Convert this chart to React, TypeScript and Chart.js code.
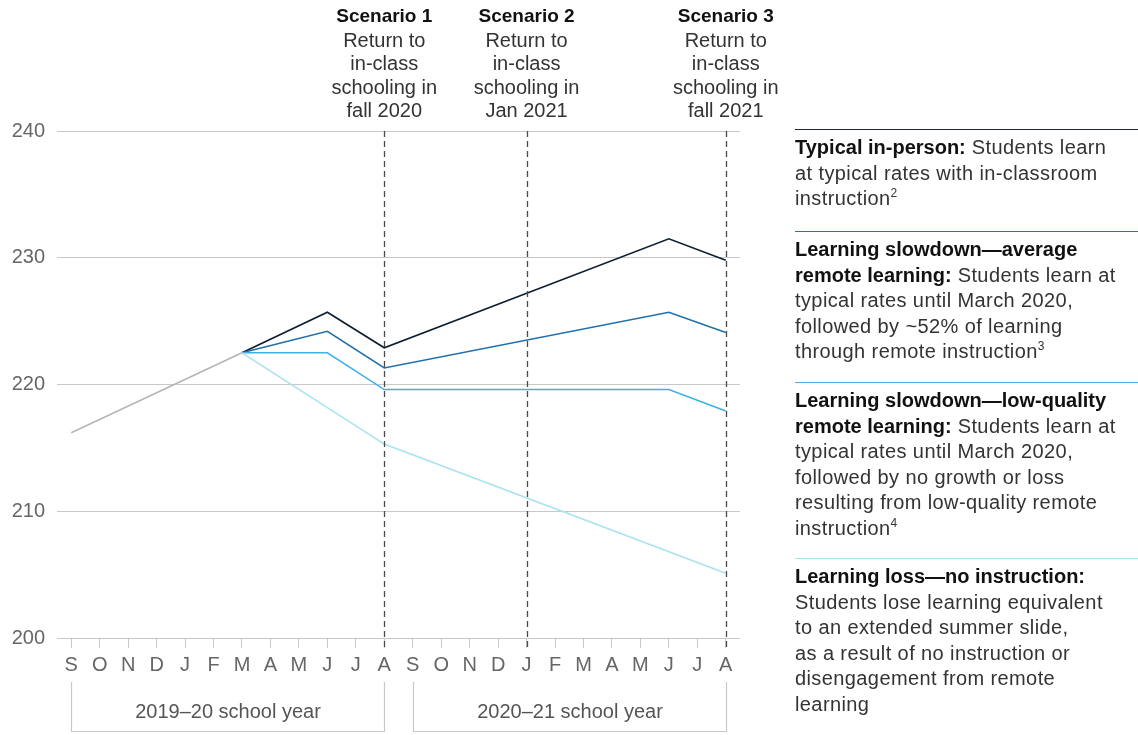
import React, { useEffect, useRef } from "react";
import { Chart, registerables } from "chart.js";

Chart.register(...registerables);

const months = ["S","O","N","D","J","F","M","A","M","J","J","A","S","O","N","D","J","F","M","A","M","J","J","A"];
const yTicks = [200, 210, 220, 230, 240];

const baseline: (number | null)[] = [216.2, null, null, null, null, null, 222.5, null, null, null, null, null, null, null, null, null, null, null, null, null, null, null, null, null];
const typical: (number | null)[] = [null, null, null, null, null, null, 222.5, null, null, 225.7, null, 222.9, null, null, null, null, null, null, null, null, null, 231.5, null, 229.8];
const averageRemote: (number | null)[] = [null, null, null, null, null, null, 222.5, null, null, 224.2, null, 221.3, null, null, null, null, null, null, null, null, null, 225.7, null, 224.1];
const lowQuality: (number | null)[] = [null, null, null, null, null, null, 222.5, null, null, 222.5, null, 219.6, null, null, null, null, null, null, null, null, null, 219.6, null, 217.9];
const noInstruction: (number | null)[] = [null, null, null, null, null, null, 222.5, null, null, null, null, 215.3, null, null, null, null, null, null, null, null, null, null, null, 205.1];

const scenarioIdx = [11, 16, 23];
const scenarioTitles = ["Scenario 1", "Scenario 2", "Scenario 3"];
const scenarioLines = [
  ["Return to", "in-class", "schooling in", "fall 2020"],
  ["Return to", "in-class", "schooling in", "Jan 2021"],
  ["Return to", "in-class", "schooling in", "fall 2021"],
];
const schoolYears = ["2019–20 school year", "2020–21 school year"];
const schoolYearRanges = [[0, 11], [12, 23]];

const FONT = "'Liberation Sans', Arial, sans-serif";

const toPts = (arr: (number | null)[]) =>
  arr.map((v, i) => (v == null ? null : { x: i, y: v })).filter((p) => p !== null) as { x: number; y: number }[];

const annotations = {
  id: "annotations",
  afterDatasetsDraw(chart: any) {
    const { ctx, chartArea, scales } = chart;
    const xs = scales.x;
    ctx.save();
    ctx.strokeStyle = "#4a4a4a";
    ctx.lineWidth = 1.3;
    ctx.setLineDash([6, 4]);
    scenarioIdx.forEach((i) => {
      const px = Math.round(xs.getPixelForValue(i)) + 0.5;
      ctx.beginPath();
      ctx.moveTo(px, chartArea.top);
      ctx.lineTo(px, chartArea.bottom + 10);
      ctx.stroke();
    });
    ctx.setLineDash([]);
    ctx.textAlign = "center";
    ctx.textBaseline = "middle";
    scenarioIdx.forEach((i, k) => {
      const px = xs.getPixelForValue(i);
      ctx.fillStyle = "#111";
      ctx.font = `bold 19px ${FONT}`;
      ctx.fillText(scenarioTitles[k], px, 17);
      ctx.fillStyle = "#333";
      ctx.font = `20px ${FONT}`;
      scenarioLines[k].forEach((t, j) => ctx.fillText(t, px, 41 + j * 23.5));
    });
    ctx.strokeStyle = "#c8c8c8";
    ctx.lineWidth = 1.2;
    schoolYearRanges.forEach(([a, b], k) => {
      const xa = Math.round(xs.getPixelForValue(a)) + 0.5;
      const xb = Math.round(xs.getPixelForValue(b)) + 0.5;
      ctx.beginPath();
      ctx.moveTo(xa, 682);
      ctx.lineTo(xa, 731.5);
      ctx.lineTo(xb, 731.5);
      ctx.lineTo(xb, 682);
      ctx.stroke();
      ctx.fillStyle = "#555";
      ctx.font = `20px ${FONT}`;
      ctx.fillText(schoolYears[k], (xa + xb) / 2, 712);
    });
    ctx.restore();
  },
};

const legendItems = [
  { color: "#1b2838", top: 129, bold: ["Typical in-person:"], lines: [" Students learn", "at typical rates with in-classroom", "instruction"], sup: "2" },
  { color: "#2873b0", top: 231, bold: ["Learning slowdown—average", "remote learning:"], lines: [" Students learn at", "typical rates until March 2020,", "followed by ~52% of learning", "through remote instruction"], sup: "3" },
  { color: "#45b3ea", top: 382, bold: ["Learning slowdown—low-quality", "remote learning:"], lines: [" Students learn at", "typical rates until March 2020,", "followed by no growth or loss", "resulting from low-quality remote", "instruction"], sup: "4" },
  { color: "#ade3ef", top: 558, bold: ["Learning loss—no instruction:"], lines: ["", "Students lose learning equivalent", "to an extended summer slide,", "as a result of no instruction or", "disengagement from remote", "learning"], sup: "" },
];

export default function App() {
  const ref = useRef<HTMLCanvasElement>(null);
  useEffect(() => {
    const mk = (data: (number | null)[], color: string) => ({
      data: toPts(data),
      borderColor: color,
      borderWidth: 1.6,
      pointRadius: 0,
      fill: false,
      tension: 0,
    });
    const chart = new Chart(ref.current!, {
      type: "line",
      data: {
        datasets: [
          mk(baseline, "#b5b5b5"),
          mk(noInstruction, "#a9e2f0"),
          mk(lowQuality, "#3eb0ea"),
          mk(averageRemote, "#1f6fab"),
          mk(typical, "#0e1e30"),
        ],
      },
      options: {
        animation: false,
        responsive: false,
        devicePixelRatio: 1,
        layout: { padding: { top: 131, right: 398, bottom: 0, left: 0 } },
        plugins: { legend: { display: false }, tooltip: { enabled: false } },
        scales: {
          x: {
            type: "linear",
            min: -0.5,
            max: 23.5,
            afterBuildTicks: (s: any) => {
              s.ticks = months.map((_, i) => ({ value: i }));
            },
            afterFit: (s: any) => {
              s.height = 97;
            },
            border: { display: false },
            grid: { drawOnChartArea: false, drawTicks: true, tickLength: 10, color: "#c8c8c8" },
            ticks: {
              autoSkip: false,
              maxRotation: 0,
              padding: 5,
              color: "#666",
              font: { family: FONT, size: 20 },
              callback: (v: any) => months[v as number] ?? "",
            },
          },
          y: {
            min: 200,
            max: 240,
            afterBuildTicks: (s: any) => {
              s.ticks = yTicks.map((v) => ({ value: v }));
            },
            afterFit: (s: any) => {
              s.width = 57;
            },
            border: { display: false },
            grid: { drawTicks: false, color: "#c8c8c8", lineWidth: 1 },
            ticks: {
              padding: 12,
              color: "#666",
              font: { family: FONT, size: 20 },
            },
          },
        },
      },
      plugins: [annotations],
    } as any);
    return () => chart.destroy();
  }, []);

  return (
    <div style={{ position: "absolute", left: 0, top: 0, width: 1138, height: 735, background: "#fff", fontFamily: FONT }}>
      <canvas ref={ref} width={1138} height={735} style={{ position: "absolute", left: 0, top: 0, width: 1138, height: 735 }} />
      {legendItems.map((it, k) => (
        <div
          key={k}
          style={{
            position: "absolute",
            left: 795,
            top: it.top,
            width: 343,
            borderTop: `1.5px solid ${it.color}`,
            paddingTop: 5,
            fontSize: 20,
            lineHeight: "25.5px",
            color: "#333",
            whiteSpace: "nowrap",
            letterSpacing: "0.4px",
          }}
        >
          {it.bold.map((b, j) => (
            <React.Fragment key={"b" + j}>
              {j > 0 ? <br /> : null}
              <span style={{ fontWeight: 700, color: "#111", letterSpacing: "0px" }}>{b}</span>
            </React.Fragment>
          ))}
          {it.lines.map((l, j) => (
            <React.Fragment key={"l" + j}>
              {j > 0 ? <br /> : null}
              {l}
            </React.Fragment>
          ))}
          {it.sup ? <sup style={{ fontSize: 12, lineHeight: 0, letterSpacing: 0 }}>{it.sup}</sup> : null}
        </div>
      ))}
    </div>
  );
}
